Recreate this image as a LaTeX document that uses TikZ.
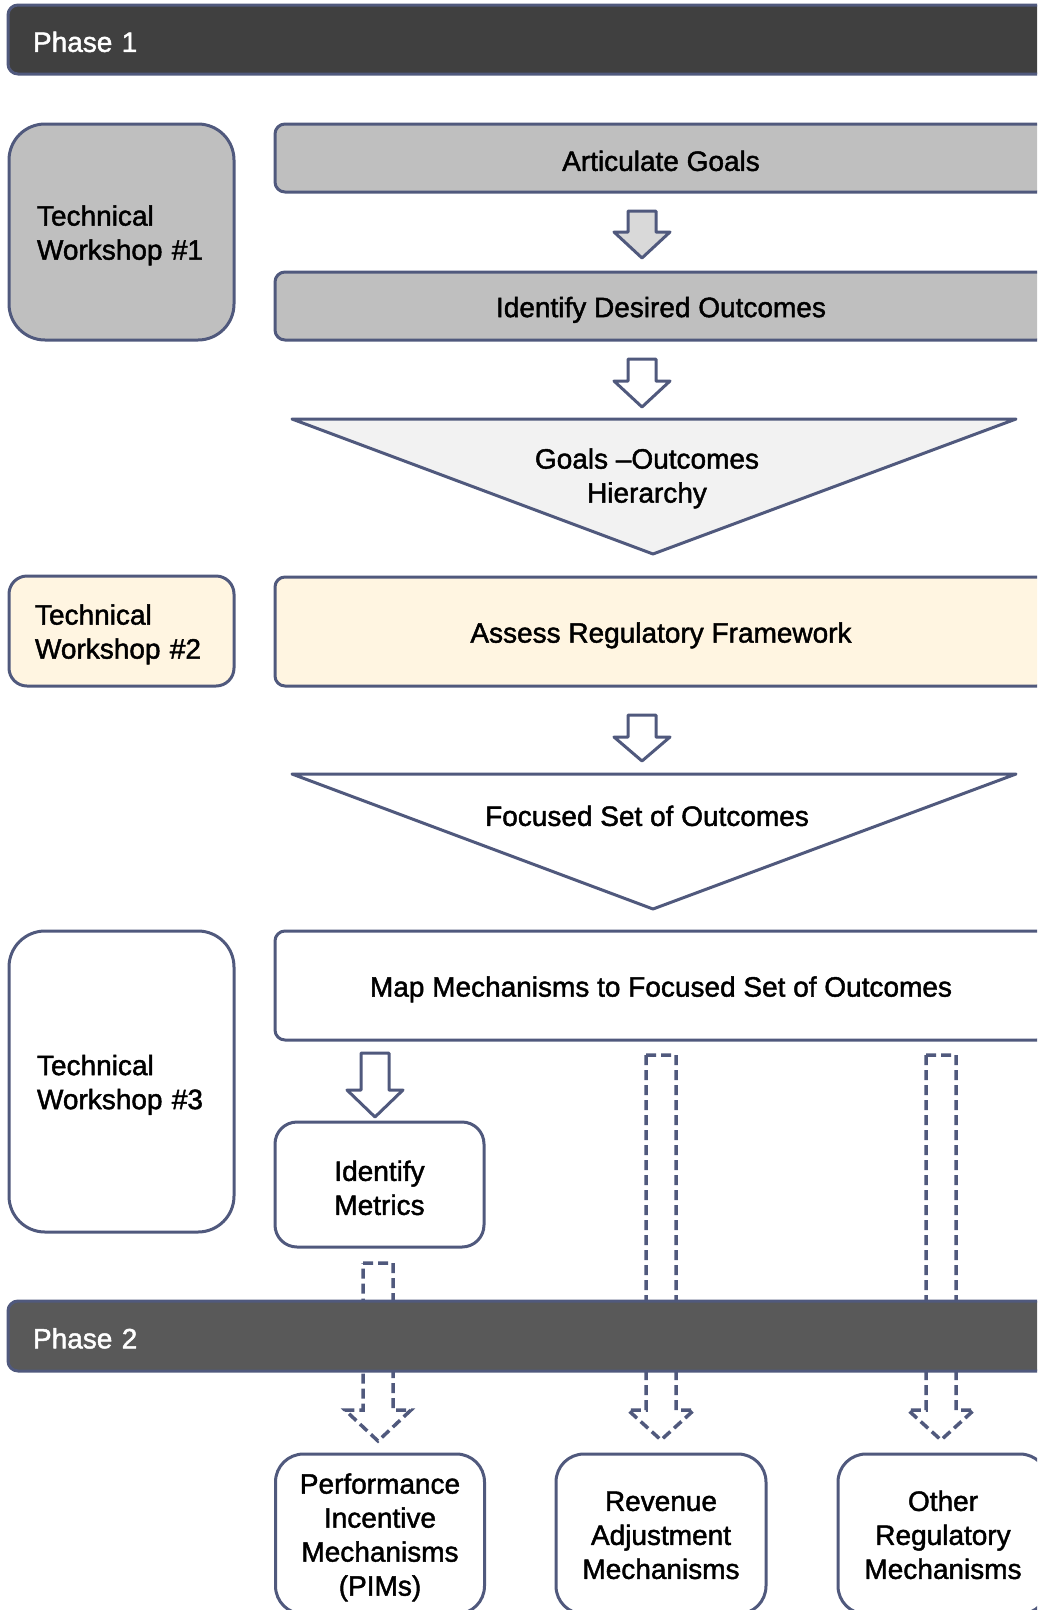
\documentclass[tikz,border=0pt]{standalone}
\usepackage{fontspec}
\setmainfont{Liberation Sans}[RawFeature={embolden=1.6}]
\definecolor{edge}{RGB}{80,89,125}
\definecolor{phaseone}{RGB}{64,64,64}
\definecolor{phasetwo}{RGB}{89,89,89}
\definecolor{graybox}{RGB}{191,191,191}
\definecolor{grayarrow}{RGB}{217,217,217}
\definecolor{lighttri}{RGB}{242,242,242}
\definecolor{cream}{RGB}{255,245,225}
\newcommand\blkarrow[6]{% x, ytop, ybase, ytip, shaft half, extra style
  \draw[arrowline,#6] ({#1-#5},#2) -- ({#1+#5},#2) -- ({#1+#5},#3) -- ({#1+28},#3) -- (#1,#4) -- ({#1-28},#3) -- ({#1-#5},#3) -- cycle;}
\newcommand\dasharrow[4]{% x, ytop, ybase, ytip
  \draw[dasharr] ({#1-15},#2) -- ({#1+15},#2) -- ({#1+15},#3) -- ({#1+33},#3) -- (#1,#4) -- ({#1-33},#3) -- ({#1-15},#3) -- cycle;}
\begin{document}
\begin{tikzpicture}[x=1pt,y=-1pt,line join=round,
  txt/.style={font=\fontsize{28}{34}\selectfont},
  box/.style={draw=edge,line width=3pt,txt,align=center,inner sep=0pt},
  wide/.style={box,minimum width=772,rounded corners=10,text height=28pt},
  tw/.style={draw=edge,line width=3pt,txt,align=left,inner xsep=28pt,inner ysep=0pt,text width=169pt,minimum width=225,text height=27pt},
  phase/.style={draw=edge,line width=3pt,rounded corners=10,txt,text=white,align=left,inner xsep=25pt,inner ysep=0pt,text width=989pt,minimum width=1039,text height=25pt},
  arrowline/.style={draw=edge,line width=3pt},
  dasharr/.style={draw=edge,line width=3.5pt,dash pattern=on 10pt off 5pt,line join=miter},
  lbl/.style={txt,align=center,inner sep=0pt}]
\useasboundingbox (0,0) rectangle (1037,1610);
\clip (0,0) rectangle (1037,1610);

% Phase 1
\node[phase,fill=phaseone,minimum height=69] (ph1) at (527.5,39.5) {Phase 1};

% Workshop boxes
\node[tw,fill=graybox,rounded corners=36,minimum height=216] (tw1) at (121.5,232) {Technical\\Workshop \#1};
\node[tw,fill=cream,rounded corners=18,minimum height=110,inner xsep=26pt,text width=173pt] (tw2) at (121.5,631) {Technical\\Workshop \#2};
\node[tw,fill=white,rounded corners=36,minimum height=301] (tw3) at (121.5,1081.5) {Technical\\Workshop \#3};

% Main column
\node[wide,fill=graybox,minimum height=68,text height=26pt] (goals) at (661,158) {Articulate Goals};
\node[wide,fill=graybox,minimum height=68] (desired) at (661,306) {Identify Desired Outcomes};

\blkarrow{642}{211}{232}{258}{14}{fill=grayarrow}
\blkarrow{642}{359}{381}{407}{14}{fill=white}

\draw[arrowline,fill=lighttri] (292,419) -- (1016,419) -- (653,554) -- cycle;
\node[lbl,text height=61pt] (hier) at (647,475) {Goals –Outcomes\\Hierarchy};

\node[wide,fill=cream,minimum height=109] (assess) at (661,631.5) {Assess Regulatory Framework};

\blkarrow{642}{715}{737}{761}{14}{fill=white}

\draw[arrowline,fill=white] (292,774) -- (1016,774) -- (653,909) -- cycle;
\node[lbl,text height=28pt] (focused) at (647,812) {Focused Set of Outcomes};

\node[wide,fill=white,minimum height=109] (map) at (661,985.5) {Map Mechanisms to Focused Set of Outcomes};

\blkarrow{375}{1053}{1090}{1117}{14}{fill=white}

\node[box,fill=white,rounded corners=22,minimum width=209,minimum height=125,text height=61pt] (metrics) at (379.5,1184.5) {Identify\\Metrics};

% dashed arrows
\dasharrow{378}{1263}{1410}{1441}
\dasharrow{661}{1055}{1410}{1440}
\dasharrow{941}{1055}{1410}{1440}

% Phase 2
\node[phase,fill=phasetwo,minimum height=70] (ph2) at (527.5,1336) {Phase 2};

% bottom boxes
\node[box,fill=white,rounded corners=28,minimum width=209,minimum height=160,text height=129pt] (pims) at (380,1534) {Performance\\Incentive\\Mechanisms\\(PIMs)};
\node[box,fill=white,rounded corners=28,minimum width=210,minimum height=160,text height=90pt] (rev) at (661,1534) {Revenue\\Adjustment\\Mechanisms};
\node[box,fill=white,rounded corners=28,minimum width=210,minimum height=160,text height=90pt] (other) at (943,1534) {Other\\Regulatory\\Mechanisms};
\end{tikzpicture}
\end{document}
